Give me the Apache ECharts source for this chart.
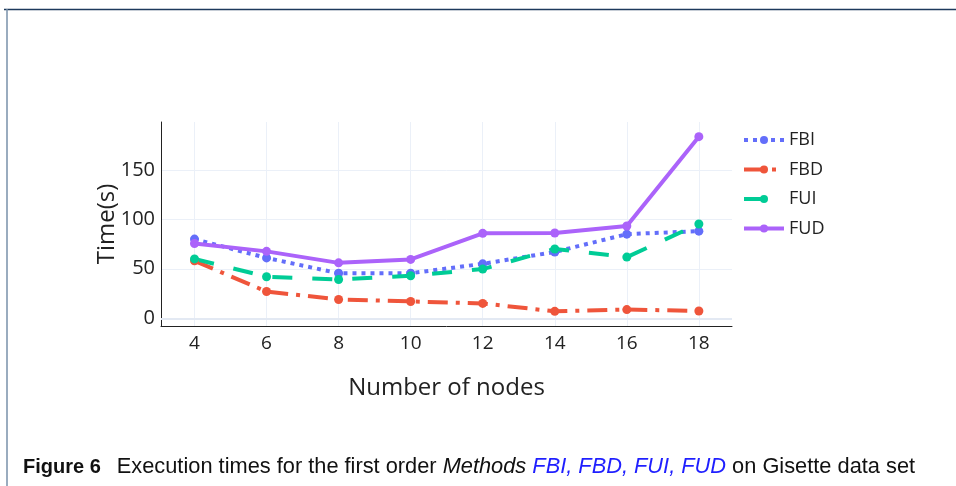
<!DOCTYPE html>
<html>
<head>
<meta charset="utf-8">
<script src="https://cdn.jsdelivr.net/npm/echarts@6/dist/echarts.min.js"></script>
<style>
  html, body { margin: 0; padding: 0; background: #fff; }
  #chart { width: 956px; height: 486px; }
</style>
</head>
<body>
<div id="chart"></div>
<script>
const nodes = [4, 6, 8, 10, 12, 14, 16, 18];
const xTicks = [4, 6, 8, 10, 12, 14, 16, 18];
const yTicks = [0, 50, 100, 150];
const fbi = [80, 61, 45.5, 45.5, 55, 67, 85, 88];
const fbd = [58, 27, 19, 17, 15, 7, 8.8, 7.4];
const fui = [60, 42, 39.2, 43, 49.7, 70, 61.8, 95.3];
const fud = [75.5, 67.6, 56, 59.5, 85.8, 86.1, 93.2, 183.5];

const font = '"Open Sans", sans-serif';
const capFont = '"Liberation Sans", Arial, sans-serif';
const textColor = '#222';

const pairs = ys => nodes.map((x, i) => [x, ys[i]]);

const makeSeries = (name, ys, color, dash) => ({
  name,
  type: 'line',
  data: pairs(ys),
  symbol: 'circle',
  symbolSize: 9,
  showSymbol: true,
  itemStyle: { color },
  lineStyle: { color, width: 4, type: dash },
  emphasis: { disabled: true },
  z: 3
});

const chart = echarts.init(document.getElementById('chart'), null, { renderer: 'canvas' });

const series = [
  makeSeries('FBI', fbi, '#636efa', [4, 5]),
  makeSeries('FBD', fbd, '#ef553b', [20, 8, 4, 8]),
  makeSeries('FUI', fui, '#00cc96', [20, 20]),
  makeSeries('FUD', fud, '#ab63fa', 'solid')
];
// darker zero line like plotly
series[0].markLine = {
  silent: true,
  symbol: 'none',
  label: { show: false },
  lineStyle: { color: '#e3e9f3', width: 2, type: 'solid' },
  data: [{ yAxis: 0 }],
  z: 1
};

chart.setOption({
  animation: false,
  backgroundColor: '#fff',
  textStyle: { fontFamily: font },
  grid: { left: 161, top: 122, width: 571, height: 204 },
  legend: {
    left: 742,
    top: 131,
    padding: 0,
    orient: 'vertical',
    itemWidth: 40,
    itemHeight: 10,
    itemGap: 11.5,
    lineStyle: { width: 4 },
    textStyle: { fontFamily: font, fontSize: 18, color: textColor },
    data: ['FBI', 'FBD', 'FUI', 'FUD']
  },
  xAxis: {
    type: 'value',
    min: 3.07,
    max: 18.92,
    name: 'Number of nodes',
    nameLocation: 'middle',
    nameGap: 50,
    nameMoveOverlap: false,
    nameTextStyle: { fontFamily: font, fontSize: 24, color: textColor },
    axisLine: { show: true, onZero: false, lineStyle: { color: '#222', width: 1 } },
    axisTick: { show: false, customValues: xTicks },
    axisLabel: { customValues: xTicks, fontFamily: font, fontSize: 19, color: textColor, margin: 8 },
    splitLine: { show: true, lineStyle: { color: '#ebf0f8', width: 1 } }
  },
  yAxis: {
    type: 'value',
    min: -7.8,
    max: 198.3,
    name: 'Time(s)',
    nameLocation: 'middle',
    nameGap: 42,
    nameMoveOverlap: false,
    nameTextStyle: { fontFamily: font, fontSize: 24, color: textColor },
    axisLine: { show: true, onZero: false, lineStyle: { color: '#222', width: 1 } },
    axisTick: { show: false, customValues: yTicks },
    axisLabel: { customValues: yTicks, fontFamily: font, fontSize: 20, color: textColor, margin: 6 },
    splitLine: { show: true, lineStyle: { color: '#ebf0f8', width: 1 } }
  },
  series,
  graphic: [
    { type: 'line', shape: { x1: 4, y1: 9.5, x2: 956, y2: 9.5 }, style: { stroke: '#1d3a5c', lineWidth: 1.5 } },
    { type: 'line', shape: { x1: 7, y1: 9, x2: 7, y2: 486 }, style: { stroke: '#7890aa', lineWidth: 1.5 } },
    {
      type: 'text',
      left: 23,
      top: 456,
      style: {
        text: '{b|Figure 6}Execution times for the first order {i|Methods} {c|FBI, FBD, FUI, FUD} on Gisette data set',
        fontFamily: capFont,
        fontSize: 21.8,
        fill: '#111',
        rich: {
          b: { fontWeight: 'bold', fontSize: 20, fontFamily: capFont, fill: '#111', padding: [0, 16, 0, 0] },
          i: { fontStyle: 'italic', fontSize: 21.8, fontFamily: capFont, fill: '#111' },
          c: { fontStyle: 'italic', fontSize: 21.8, fontFamily: capFont, fill: '#1f1fff' }
        }
      }
    }
  ]
});
</script>
</body>
</html>
